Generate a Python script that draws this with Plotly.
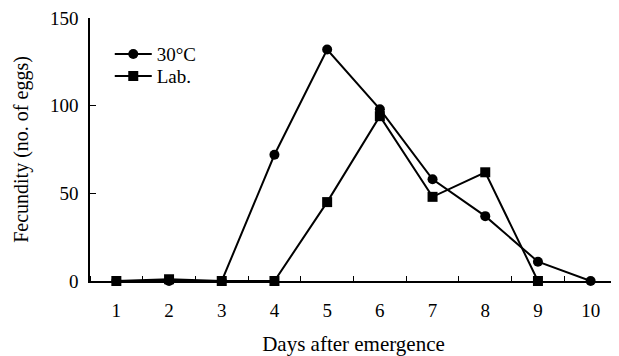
import plotly.graph_objects as go

days = [1, 2, 3, 4, 5, 6, 7, 8, 9, 10]
fec_30c = [0, 0, 0, 72, 132, 98, 58, 37, 11, 0]
lab_days = [1, 2, 3, 4, 5, 6, 7, 8, 9]
fec_lab = [0, 1, 0, 0, 45, 94, 48, 62, 0]
x_ticks = [1, 2, 3, 4, 5, 6, 7, 8, 9, 10]
y_ticks = [0, 50, 100, 150]

FONT = "Liberation Serif"

fig = go.Figure()
fig.add_trace(go.Scatter(
    x=days, y=fec_30c, name="30°C", mode="lines+markers",
    line=dict(color="black", width=2),
    marker=dict(symbol="circle", size=10, color="black"),
    cliponaxis=False, legend="legend",
))
fig.add_trace(go.Scatter(
    x=lab_days, y=fec_lab, name="Lab.", mode="lines+markers",
    line=dict(color="black", width=2),
    marker=dict(symbol="square", size=10, color="black"),
    cliponaxis=False, legend="legend2",
))

leg_common = dict(xanchor="left", yanchor="top", bgcolor="rgba(0,0,0,0)",
                  font=dict(family=FONT, size=19), itemwidth=37)

fig.update_layout(
    width=611, height=348,
    margin=dict(l=82, r=2, t=10, b=75),
    paper_bgcolor="white", plot_bgcolor="white",
    font=dict(family=FONT, size=19, color="black"),
    showlegend=True,
    legend=dict(x=0.0375, y=0.935, **leg_common),
    legend2=dict(x=0.0375, y=0.851, **leg_common),
    xaxis=dict(
        range=[0.5, 10.5], tickvals=x_ticks, ticktext=[str(v) for v in x_ticks],
        ticks="", showgrid=False, zeroline=False,
        showline=True, linecolor="black", linewidth=1.5,
        tickfont=dict(family=FONT, size=19),
        minor=dict(ticks="inside", tick0=0.5, dtick=1, ticklen=5,
                   tickcolor="black", showgrid=False),
        ticklabelstandoff=11, automargin="bottom",
        title=dict(text="Days after emergence", font=dict(family=FONT, size=21), standoff=18),
    ),
    yaxis=dict(
        range=[0, 150], tickvals=y_ticks, ticks="inside", ticklen=6,
        tickcolor="black", showgrid=False, zeroline=False,
        showline=True, linecolor="black", linewidth=1.5,
        tickfont=dict(family=FONT, size=19),
        ticklabelstandoff=6, ticklabeloverflow="allow", automargin="left",
        title=dict(text="Fecundity (no. of eggs)", font=dict(family=FONT, size=20), standoff=16),
    ),
)

fig.write_html("out.html")
